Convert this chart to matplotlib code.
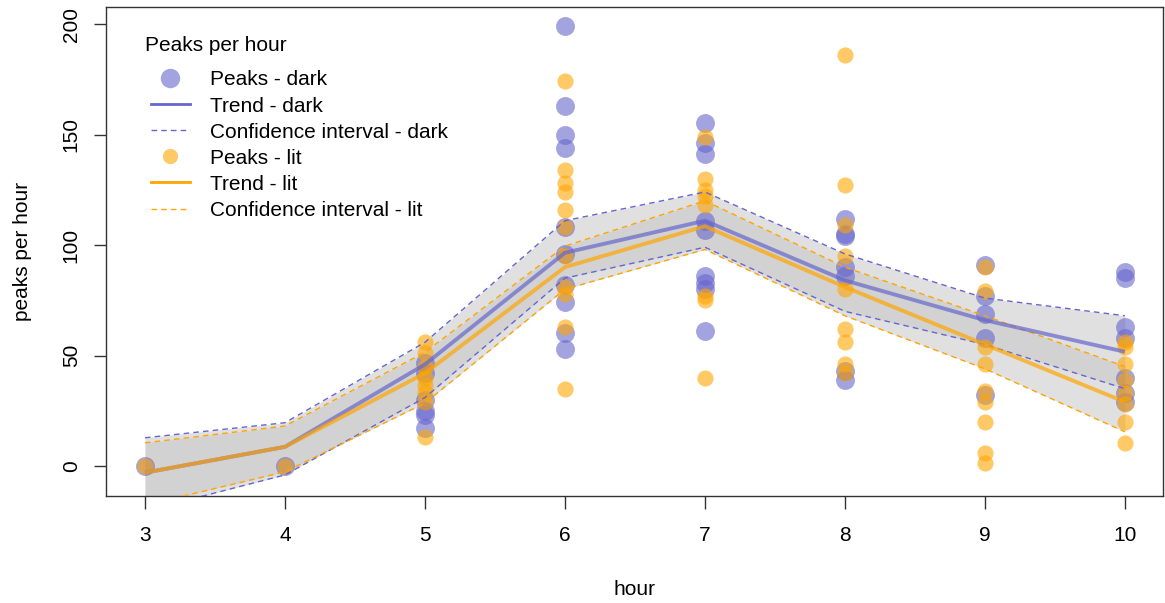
import matplotlib
matplotlib.use("Agg")
import matplotlib.pyplot as plt
from matplotlib.lines import Line2D
import numpy as np

plt.rcParams['font.family'] = ['Liberation Sans', 'DejaVu Sans']

# ---- data ----
hours = [3, 4, 5, 6, 7, 8, 9, 10]

dark_hour = ([3] + [4] + [5] * 6 + [6] * 10 + [7] * 9 + [8] * 7 + [9] * 5 + [10] * 7)
dark_peaks = [0,
              0,
              46.5, 42, 30, 25, 23, 17,
              199, 163, 150, 144, 108, 96, 82, 74, 60, 53,
              155, 146, 141, 111, 107, 86, 83, 80, 61,
              112, 105, 104, 90, 86, 43, 39,
              91, 77, 69, 58, 32,
              88, 85, 63, 58, 40, 33, 29]

lit_hour = ([3] + [4] + [5] * 8 + [6] * 11 + [7] * 8 + [8] * 9 + [9] * 9 + [10] * 8)
lit_peaks = [0,
             0,
             56, 51, 45, 40, 36.5, 33.5, 29, 13,
             174, 134, 128, 124, 116, 108, 95, 81, 78, 63, 35,
             149, 130, 125, 122, 118, 77, 75, 40,
             186, 127, 109, 95, 80, 62, 56, 46, 42,
             90, 79, 54, 46, 34, 29, 20, 6, 1.5,
             56, 54, 46, 39, 33, 28, 20, 10.5]

dark_trend = [-3, 8.7, 46, 96.5, 111, 84, 66, 51.7]
dark_upper = [12.8, 19.6, 56, 111, 124, 96, 76, 68]
dark_lower = [-20.3, -4, 31, 85, 99, 70, 55, 35]

lit_trend = [-3, 8.7, 42, 90, 108.5, 81, 55, 29]
lit_upper = [10.5, 18.1, 51.5, 99.5, 120, 90, 68, 45]
lit_lower = [-17.7, -2.6, 28.5, 80, 98, 68, 44, 15.5]

x_ticks = [3, 4, 5, 6, 7, 8, 9, 10]
y_ticks = [0, 50, 100, 150, 200]

# ---- style ----
DARK = '#6666CC'
LIT = '#FFA500'
FILL = '#C8C8C8'
FS = 15

fig = plt.figure(figsize=(11.65, 6.03), dpi=100)
ax = fig.add_axes([0.0907, 0.178, 0.9073, 0.8104])

ax.fill_between(hours, dark_lower, dark_upper, color=FILL, alpha=0.55, linewidth=0, zorder=1)
ax.fill_between(hours, lit_lower, lit_upper, color=FILL, alpha=0.55, linewidth=0, zorder=1)

ax.scatter(dark_hour, dark_peaks, s=185, color=DARK, alpha=0.6, linewidths=0, zorder=2)
ax.scatter(lit_hour, lit_peaks, s=135, color=LIT, alpha=0.6, linewidths=0, zorder=2)

ax.plot(hours, dark_upper, color=DARK, lw=1, dashes=(4, 3), zorder=4)
ax.plot(hours, dark_lower, color=DARK, lw=1, dashes=(4, 3), zorder=4)
ax.plot(hours, lit_upper, color=LIT, lw=1, dashes=(4, 3), zorder=4)
ax.plot(hours, lit_lower, color=LIT, lw=1, dashes=(4, 3), zorder=4)

ax.plot(hours, dark_trend, color=DARK, lw=2.8, alpha=0.7, zorder=5, solid_capstyle='butt')
ax.plot(hours, lit_trend, color=LIT, lw=2.8, alpha=0.7, zorder=5, solid_capstyle='butt')

ax.set_xlim(2.719, 10.27)
ax.set_ylim(-13.4, 207.7)
ax.set_xticks(x_ticks)
ax.set_yticks(y_ticks)
ax.set_xticklabels([str(v) for v in x_ticks], fontsize=FS)
ax.set_yticklabels([str(v) for v in y_ticks], fontsize=FS, rotation=90, va='center')
ax.tick_params(axis='both', direction='out', length=9, width=1, color='#333333')
ax.tick_params(axis='x', pad=13)
ax.tick_params(axis='y', pad=9)
for sp in ax.spines.values():
    sp.set_color('#333333')
    sp.set_linewidth(1)

ax.set_xlabel('hour', fontsize=FS, labelpad=25)
ax.set_ylabel('peaks per hour', fontsize=FS, labelpad=21)

handles = [
    Line2D([], [], ls='', marker='o', markersize=14, color=DARK, alpha=0.6, markeredgewidth=0),
    Line2D([], [], color=DARK, lw=2),
    Line2D([], [], color=DARK, lw=1, dashes=(4, 3)),
    Line2D([], [], ls='', marker='o', markersize=11, color=LIT, alpha=0.6, markeredgewidth=0),
    Line2D([], [], color=LIT, lw=2),
    Line2D([], [], color=LIT, lw=1, dashes=(4, 3)),
]
labels = ['Peaks - dark', 'Trend - dark', 'Confidence interval - dark',
          'Peaks - lit', 'Trend - lit', 'Confidence interval - lit']
leg = ax.legend(handles, labels, title='Peaks per hour', loc='upper left',
                bbox_to_anchor=(0.037, 0.94), frameon=False, fontsize=FS,
                title_fontsize=FS, handlelength=1.875, handletextpad=0.96,
                labelspacing=0.34, borderpad=0, borderaxespad=0)
leg._legend_box.align = 'left'
leg._legend_handle_box.pad = 4.3
leg._legend_box.sep = 6.6

fig.savefig('out.png', dpi=100)
